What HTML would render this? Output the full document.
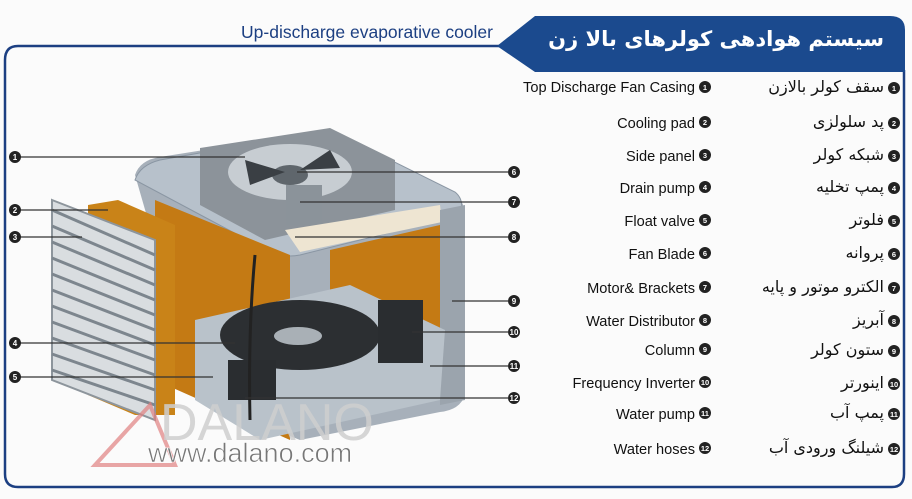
<!DOCTYPE html>
<html><head><meta charset="utf-8"><style>
body{margin:0;background:#fbfbfb;}
#w{position:relative;width:912px;height:499px;overflow:hidden}
svg{display:block;position:absolute;left:0;top:0}
.en{font-family:"Liberation Sans",sans-serif;font-size:14.6px;fill:#111;text-anchor:end}
.fa{position:absolute;right:28px;font-family:"DejaVu Sans","Liberation Sans",sans-serif;font-size:16px;color:#111;direction:rtl;white-space:nowrap;line-height:20px}
.ttl{position:absolute;right:28px;top:24px;font-family:"DejaVu Sans","Liberation Sans",sans-serif;font-size:21px;font-weight:bold;color:#fff;direction:rtl;white-space:nowrap;line-height:30px}
</style></head><body><div id="w">
<svg width="912" height="499" viewBox="0 0 912 499" xmlns="http://www.w3.org/2000/svg">
<rect width="912" height="499" fill="#fbfbfb"/>
<path d="M500 46 H18 Q5 46 5 60 V474 Q5 487 18 487 H892 Q904 487 904 474 V70" fill="none" stroke="#1c3f82" stroke-width="2.5"/>
<path d="M497 46 L535 16 H890 Q905 16 905 30 V72 H535 Z" fill="#1b4a8e"/>
<text x="493" y="38" font-family="'Liberation Sans',sans-serif" font-size="17.5" fill="#1c3f82" text-anchor="end">Up-discharge evaporative cooler</text>

<g>
<path d="M135 175 Q140 160 160 157 L330 130 L450 190 Q465 200 465 215 L465 395 Q460 410 440 412 L300 440 L200 400 Z" fill="#a7b0ba"/>
<path d="M135 180 Q140 165 160 160 L330 130 L455 192 Q465 200 460 215 L300 255 Q285 258 270 252 Z" fill="#b7c1cb" stroke="#8a96a3"/>
<path d="M200 148 L330 128 L395 160 L395 210 L265 240 L200 205 Z" fill="#8c939a"/>
<ellipse cx="290" cy="172" rx="62" ry="28" fill="#c7cdd2"/>
<ellipse cx="290" cy="175" rx="18" ry="10" fill="#5f666c"/>
<path d="M245 160 L285 172 L250 185 Z M300 170 L330 150 L340 168 Z" fill="#3a3f44"/>
<rect x="286" y="185" width="36" height="40" fill="#8b939a"/>
<path d="M285 230 L440 205 L442 222 L300 252 Z" fill="#eee5d2"/>
<path d="M155 200 L290 255 L290 440 L155 380 Z" fill="#c47a14"/>
<path d="M330 250 L440 225 L440 395 L330 420 Z" fill="#c47a14"/>
<path d="M88 205 L118 200 L175 225 L175 415 L135 415 L88 395 Z" fill="#c98318"/>
<path d="M440 210 L465 205 L465 400 L440 405 Z" fill="#9ba4ad"/>
<path d="M195 320 L350 285 L445 330 L440 400 L260 440 L195 400 Z" fill="#b9c2ca"/>
<ellipse cx="300" cy="335" rx="80" ry="35" fill="#2c2f32"/>
<ellipse cx="298" cy="336" rx="24" ry="9" fill="#a9b0b6"/>
<rect x="378" y="300" width="45" height="63" fill="#2a2d30"/>
<rect x="228" y="360" width="48" height="40" fill="#2a2d30"/>
<path d="M255 255 Q248 330 250 420" fill="none" stroke="#222" stroke-width="3"/>
<path d="M52 200 L155 240 L155 420 L52 380 Z" fill="#d9dde0" stroke="#8d959c" stroke-width="2"/>
<g stroke="#7d868e" stroke-width="3">
<line x1="52" y1="210" x2="155" y2="255"/><line x1="52" y1="226" x2="155" y2="270"/><line x1="52" y1="242" x2="155" y2="285"/><line x1="52" y1="258" x2="155" y2="300"/><line x1="52" y1="274" x2="155" y2="315"/><line x1="52" y1="290" x2="155" y2="330"/><line x1="52" y1="306" x2="155" y2="345"/><line x1="52" y1="322" x2="155" y2="360"/><line x1="52" y1="338" x2="155" y2="375"/><line x1="52" y1="354" x2="155" y2="390"/><line x1="52" y1="370" x2="155" y2="405"/>
</g>
</g>
<path d="M95 465 L150 405 L175 465 Z" fill="none" stroke="#e08080" stroke-width="4" opacity="0.7"/>
<text x="160" y="440" font-family="'Liberation Sans',sans-serif" font-size="52" fill="#cfcfcf" opacity="0.85">DALANO</text>
<text x="148" y="462" font-family="'Liberation Sans',sans-serif" font-size="27" fill="#777" stroke="#fff" stroke-width="0.6">www.dalano.com</text>

<g stroke="#333" stroke-width="1.2" fill="none">
<line x1="20" y1="157" x2="245" y2="157"/><line x1="20" y1="210" x2="108" y2="210"/><line x1="20" y1="237" x2="82" y2="237"/><line x1="20" y1="343" x2="235" y2="343"/><line x1="20" y1="377" x2="213" y2="377"/>
<line x1="297" y1="172" x2="508" y2="172"/><line x1="300" y1="202" x2="508" y2="202"/><line x1="295" y1="237" x2="508" y2="237"/><line x1="452" y1="301" x2="508" y2="301"/><line x1="412" y1="332" x2="508" y2="332"/><line x1="430" y1="366" x2="508" y2="366"/><line x1="245" y1="398" x2="508" y2="398"/>
</g>
<g font-family="'Liberation Sans',sans-serif" font-size="8" font-weight="bold" text-anchor="middle">
<g fill="#222"><circle cx="15" cy="157" r="6"/><circle cx="15" cy="210" r="6"/><circle cx="15" cy="237" r="6"/><circle cx="15" cy="343" r="6"/><circle cx="15" cy="377" r="6"/>
<circle cx="514" cy="172" r="6"/><circle cx="514" cy="202" r="6"/><circle cx="514" cy="237" r="6"/><circle cx="514" cy="301" r="6"/><circle cx="514" cy="332" r="6"/><circle cx="514" cy="366" r="6"/><circle cx="514" cy="398" r="6"/></g>
<g fill="#fff"><text x="15" y="160">1</text><text x="15" y="213">2</text><text x="15" y="240">3</text><text x="15" y="346">4</text><text x="15" y="380">5</text>
<text x="514" y="175">6</text><text x="514" y="205">7</text><text x="514" y="240">8</text><text x="514" y="304">9</text><text x="514" y="335">10</text><text x="514" y="369">11</text><text x="514" y="401">12</text></g>
</g>

<g>
<text class="en" x="695" y="92">Top Discharge Fan Casing</text>
<text class="en" x="695" y="128">Cooling pad</text>
<text class="en" x="695" y="161">Side panel</text>
<text class="en" x="695" y="193">Drain pump</text>
<text class="en" x="695" y="226">Float valve</text>
<text class="en" x="695" y="259">Fan Blade</text>
<text class="en" x="695" y="293">Motor&amp; Brackets</text>
<text class="en" x="695" y="326">Water Distributor</text>
<text class="en" x="695" y="355">Column</text>
<text class="en" x="695" y="388">Frequency Inverter</text>
<text class="en" x="695" y="419">Water pump</text>
<text class="en" x="695" y="454">Water hoses</text>
</g>
<g font-family="'Liberation Sans',sans-serif" font-size="7.5" font-weight="bold" text-anchor="middle">
<g fill="#222"><circle cx="705" cy="87" r="6"/><circle cx="705" cy="122" r="6"/><circle cx="705" cy="155" r="6"/><circle cx="705" cy="187" r="6"/><circle cx="705" cy="220" r="6"/><circle cx="705" cy="253" r="6"/><circle cx="705" cy="287" r="6"/><circle cx="705" cy="320" r="6"/><circle cx="705" cy="349" r="6"/><circle cx="705" cy="382" r="6"/><circle cx="705" cy="413" r="6"/><circle cx="705" cy="448" r="6"/>
<circle cx="894" cy="88" r="6"/><circle cx="894" cy="123" r="6"/><circle cx="894" cy="156" r="6"/><circle cx="894" cy="188" r="6"/><circle cx="894" cy="221" r="6"/><circle cx="894" cy="254" r="6"/><circle cx="894" cy="288" r="6"/><circle cx="894" cy="321" r="6"/><circle cx="894" cy="351" r="6"/><circle cx="894" cy="384" r="6"/><circle cx="894" cy="414" r="6"/><circle cx="894" cy="449" r="6"/></g>
<g fill="#fff">
<text x="705" y="90">1</text><text x="705" y="125">2</text><text x="705" y="158">3</text><text x="705" y="190">4</text><text x="705" y="223">5</text><text x="705" y="256">6</text><text x="705" y="290">7</text><text x="705" y="323">8</text><text x="705" y="352">9</text><text x="705" y="385">10</text><text x="705" y="416">11</text><text x="705" y="451">12</text>
<text x="894" y="91">1</text><text x="894" y="126">2</text><text x="894" y="159">3</text><text x="894" y="191">4</text><text x="894" y="224">5</text><text x="894" y="257">6</text><text x="894" y="291">7</text><text x="894" y="324">8</text><text x="894" y="354">9</text><text x="894" y="387">10</text><text x="894" y="417">11</text><text x="894" y="452">12</text></g>
</g>
</svg>
<div class="ttl">سیستم هوادهی کولرهای بالا زن</div>
<div class="fa" style="top:77px">سقف کولر بالازن</div>
<div class="fa" style="top:112px">پد سلولزی</div>
<div class="fa" style="top:145px">شبکه کولر</div>
<div class="fa" style="top:177px">پمپ تخلیه</div>
<div class="fa" style="top:210px">فلوتر</div>
<div class="fa" style="top:243px">پروانه</div>
<div class="fa" style="top:277px">الکترو موتور و پایه</div>
<div class="fa" style="top:310px">آبریز</div>
<div class="fa" style="top:340px">ستون کولر</div>
<div class="fa" style="top:373px">اینورتر</div>
<div class="fa" style="top:403px">پمپ آب</div>
<div class="fa" style="top:438px">شیلنگ ورودی آب</div>
</div>
</body></html>
